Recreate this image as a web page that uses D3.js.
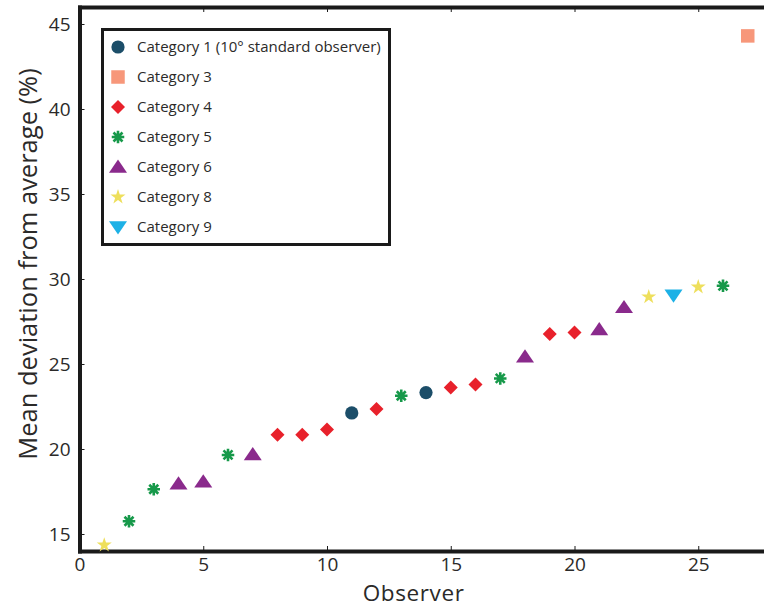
<!DOCTYPE html>
<html>
<head>
<meta charset="utf-8">
<script src="https://cdn.jsdelivr.net/npm/d3@7"></script>
<style>
  html, body { margin: 0; padding: 0; background: #fff; }
  svg { display: block; }
  text { font-family: "Open Sans", "Noto Sans", sans-serif; fill: #2b2a29; }
</style>
</head>
<body>
<svg id="chart" width="764" height="608"></svg>
<script>
// ---- data ----
const observers = [1, 2, 3, 4, 5, 6, 7, 8, 9, 10, 11, 12, 13, 14, 15, 16, 17, 18, 19, 20, 21, 22, 23, 24, 25, 26, 27];
const deviations = [14.35, 15.75, 17.63, 17.95, 18.07, 19.65, 19.68, 20.84, 20.84, 21.15, 22.12, 22.36, 23.13, 23.32, 23.62, 23.8, 24.15, 25.43, 26.77, 26.86, 27.03, 28.33, 28.95, 29.05, 29.53, 29.6, 44.3];
const pointCategories = ["Category 8", "Category 5", "Category 5", "Category 6", "Category 6", "Category 5", "Category 6",
  "Category 4", "Category 4", "Category 4", "Category 1", "Category 4", "Category 5", "Category 1", "Category 4", "Category 4",
  "Category 5", "Category 6", "Category 4", "Category 4", "Category 6", "Category 6", "Category 8", "Category 9", "Category 8",
  "Category 5", "Category 3"];
const legendCategories = ["Category 1", "Category 3", "Category 4", "Category 5", "Category 6", "Category 8", "Category 9"];
const legendLabels = ["Category 1 (10° standard observer)", "Category 3", "Category 4", "Category 5", "Category 6", "Category 8", "Category 9"];
const categoryColors = ["#1c4e69", "#f7977a", "#e8212b", "#17994a", "#8a2a8c", "#eedf5c", "#1db1e6"];
const categoryShapes = ["circle", "square", "diamond", "asterisk", "triangle", "star", "triangleDown"];
const xTicks = [0, 5, 10, 15, 20, 25];
const yTicks = [15, 20, 25, 30, 35, 40, 45];

// ---- layout ----
const svg = d3.select("#chart");
const x = d3.scaleLinear().domain([0, 28]).range([79.5, 772.5]);
const y = d3.scaleLinear().domain([14, 46]).range([551, 7]);
const color = d3.scaleOrdinal().domain(legendCategories).range(categoryColors);
const shape = d3.scaleOrdinal().domain(legendCategories).range(categoryShapes);

// custom symbol types
const diamondType = { draw(ctx, size) { const r = Math.sqrt(size) / 2; ctx.moveTo(0, -r); ctx.lineTo(r, 0); ctx.lineTo(0, r); ctx.lineTo(-r, 0); ctx.closePath(); } };
const triUpType = { draw(ctx, size) { const w = Math.sqrt(size); ctx.moveTo(0, -w * 0.5); ctx.lineTo(w * 0.6, w * 0.38); ctx.lineTo(-w * 0.6, w * 0.38); ctx.closePath(); } };
const triDownType = { draw(ctx, size) { const w = Math.sqrt(size); ctx.moveTo(0, w * 0.5); ctx.lineTo(w * 0.6, -w * 0.38); ctx.lineTo(-w * 0.6, -w * 0.38); ctx.closePath(); } };
const asteriskType = { draw(ctx, size) { const r = Math.sqrt(size) / 2; const d = r * 0.72;
  ctx.moveTo(0, -r); ctx.lineTo(0, r); ctx.moveTo(-r, 0); ctx.lineTo(r, 0);
  ctx.moveTo(-d, -d); ctx.lineTo(d, d); ctx.moveTo(-d, d); ctx.lineTo(d, -d); } };

function symbolPath(s) {
  switch (s) {
    case "circle": return d3.symbol().type(d3.symbolCircle).size(Math.PI * 6.6 * 6.6)();
    case "square": return d3.symbol().type(d3.symbolSquare).size(13.5 * 13.5)();
    case "diamond": return d3.symbol().type(diamondType).size(14 * 14)();
    case "asterisk": return d3.symbol().type(asteriskType).size(12.5 * 12.5)();
    case "triangle": return d3.symbol().type(triUpType).size(15 * 15)();
    case "star": return d3.symbol().type(d3.symbolStar).size(70)();
    case "triangleDown": return d3.symbol().type(triDownType).size(15 * 15)();
  }
}
function styleSymbol(sel, cat) {
  const s = shape(cat), c = color(cat);
  if (s === "asterisk") sel.attr("fill", "none").attr("stroke", c).attr("stroke-width", 2.6);
  else sel.attr("fill", c).attr("stroke", "none");
}

// ---- axes ----
const axisStroke = "#1a1a1a";
const gLeft = svg.append("g").attr("transform", `translate(${x(0)},0)`)
  .call(d3.axisLeft(y).tickValues(yTicks).tickSizeInner(-5).tickSizeOuter(0).tickPadding(9));
const gBottom = svg.append("g").attr("transform", `translate(0,${y(14)})`)
  .call(d3.axisBottom(x).tickValues(xTicks).tickSizeInner(-5).tickSizeOuter(0).tickPadding(8));
const gTop = svg.append("g").attr("transform", `translate(0,${y(46)})`)
  .call(d3.axisTop(x).tickValues(xTicks.filter(v => v > 0)).tickSizeInner(-5).tickSizeOuter(0).tickFormat(""));

[gLeft, gBottom, gTop].forEach(g => {
  g.select(".domain").attr("stroke", axisStroke).attr("stroke-width", 4).attr("stroke-linecap", "square");
  g.selectAll(".tick line").attr("stroke", axisStroke).attr("stroke-width", 1);
  g.selectAll(".tick text").style("font-family", '"Open Sans", sans-serif').style("font-size", "19px").attr("fill", "#2b2a29");
});
gLeft.selectAll(".tick text").attr("dy", "0.35em");
gBottom.selectAll(".tick text").attr("dy", "0.65em");

// axis titles
svg.append("text").attr("x", x(13.5)).attr("y", 601).attr("text-anchor", "middle")
  .style("font-size", "22.5px").style("letter-spacing", "0.6px").text("Observer");
svg.append("text").attr("transform", `translate(37,264) rotate(-90)`).attr("text-anchor", "middle")
  .style("font-size", "25.5px").text("Mean deviation from average (%)");

// ---- points ----
svg.append("g").selectAll("path").data(observers).join("path")
  .attr("transform", (d, i) => `translate(${x(d)},${y(deviations[i])})`)
  .attr("d", (d, i) => symbolPath(shape(pointCategories[i])))
  .each(function (d, i) { styleSymbol(d3.select(this), pointCategories[i]); });

// ---- legend ----
const legend = svg.append("g");
legend.append("rect").attr("x", 102.5).attr("y", 29.5).attr("width", 287).attr("height", 215)
  .attr("fill", "#fff").attr("stroke", "#1a1a1a").attr("stroke-width", 3);
const rowY = d3.scalePoint().domain(legendCategories).range([47, 227]);
const rows = legend.selectAll("g.row").data(legendCategories).join("g").attr("class", "row")
  .attr("transform", d => `translate(118,${rowY(d)})`);
rows.append("path").attr("d", d => symbolPath(shape(d))).each(function (d) { styleSymbol(d3.select(this), d); });
rows.append("text").attr("x", 19).attr("dy", "0.35em").style("font-size", "15px")
  .text((d, i) => legendLabels[i]);
</script>
</body>
</html>
